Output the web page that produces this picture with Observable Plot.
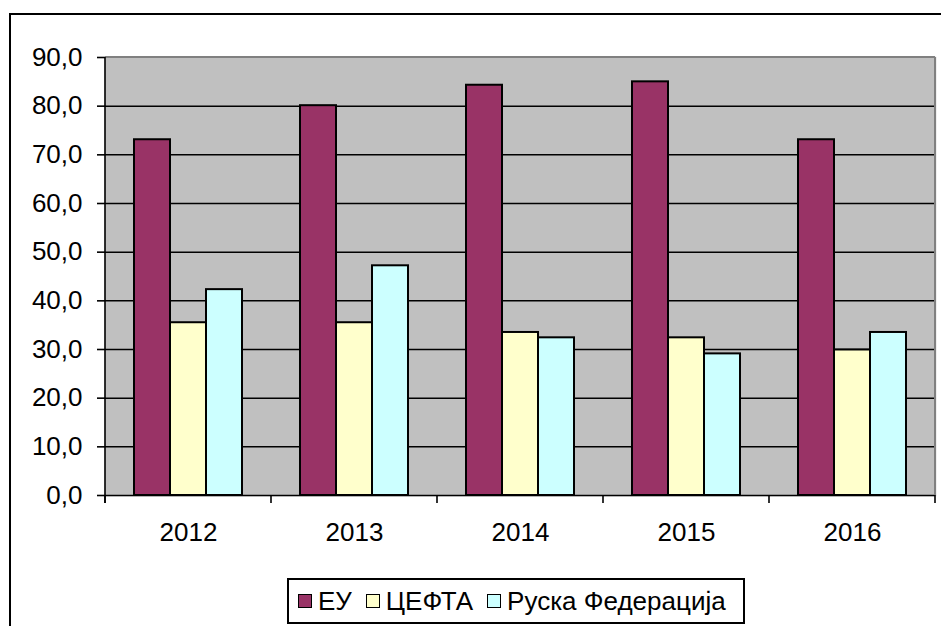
<!DOCTYPE html>
<html>
<head>
<meta charset="utf-8">
<script src="https://cdn.jsdelivr.net/npm/d3@7"></script>
<script src="https://cdn.jsdelivr.net/npm/@observablehq/plot@0.6"></script>
<style>
  html, body { margin: 0; padding: 0; background: #fff; }
  #wrap { position: relative; width: 941px; height: 626px; overflow: hidden; background: #fff;
          font-family: "Liberation Sans", Arial, sans-serif; }
  #outer { position: absolute; left: 9px; top: 13px; width: 1000px; height: 700px;
           border: 2px solid #000; box-sizing: border-box; }
  #chart { position: absolute; left: 0; top: 0; }
  #legend { position: absolute; left: 287px; top: 578px; width: 458px; height: 46px;
            border: 2px solid #000; box-sizing: border-box; background: #fff;
            display: flex; align-items: center; font-size: 26px; color: #000; padding-left: 9px; }
  .item { display: flex; align-items: center; margin-right: 14px; white-space: nowrap; }
  .sw { width: 12px; height: 12px; border: 1.5px solid #000; margin-right: 6px; }
</style>
</head>
<body>
<div id="wrap">
  <div id="outer"></div>
  <div id="chart"></div>
  <div id="legend"></div>
</div>
<script>
const years = ["2012", "2013", "2014", "2015", "2016"];
const series = ["ЕУ", "ЦЕФТА", "Руска Федерација"];
const euValues = [73.1, 80.1, 84.3, 85.0, 73.1];
const ceftaValues = [35.5, 35.5, 33.5, 32.4, 29.9];
const russiaValues = [42.3, 47.2, 32.4, 29.1, 33.5];
const yTicks = [0, 10, 20, 30, 40, 50, 60, 70, 80, 90];
const colors = ["#993366", "#FFFFCC", "#CCFFFF"];

const valuesBySeries = [euValues, ceftaValues, russiaValues];
const data = [];
years.forEach((year, i) => {
  series.forEach((s, j) => data.push({year, series: s, value: valuesBySeries[j][i]}));
});

const fmt = d => d.toFixed(1).replace(".", ",");

const chart = Plot.plot({
  width: 941,
  height: 570,
  marginLeft: 105,
  marginRight: 6,
  marginTop: 57,
  marginBottom: 75,
  style: {fontFamily: "'Liberation Sans', Arial, sans-serif", fontSize: "26px", color: "#000", background: "transparent", overflow: "visible"},
  fx: {domain: years, padding: 0, label: null},
  x: {domain: series, paddingInner: 0, paddingOuter: 0.78, axis: null},
  y: {domain: [0, 90], label: null},
  color: {domain: series, range: colors},
  marks: [
    Plot.frame({fill: "#C0C0C0", stroke: "#C0C0C0", strokeWidth: 1.5}),
    Plot.ruleY(yTicks.filter(d => d > 0 && d < 90), {stroke: "#000", strokeWidth: 1.5}),
    Plot.barY(data, {fx: "year", x: "series", y: "value", fill: "series", stroke: "#000", strokeWidth: 2}),
    Plot.ruleY([0], {stroke: "#000", strokeWidth: 1.6}),
    Plot.axisY(yTicks, {anchor: "left", tickFormat: fmt, tickSize: 8, tickPadding: 15, fontSize: 26, stroke: "#000", strokeWidth: 1.6, fill: "#000"}),
    Plot.axisFx({anchor: "bottom", tickSize: 0, tickPadding: 27, fontSize: 26, fill: "#000", label: null})
  ]
});
document.getElementById("chart").appendChild(chart);

(function () {
  // plot-area border and category boundary ticks, placed with the plot's own scales
  const fxS = chart.scale("fx");
  const yS = chart.scale("y");
  const yPos = v => yS.apply ? yS.apply(v) : yS.range[0] + (yS.range[1] - yS.range[0]) * (v - yS.domain[0]) / (yS.domain[1] - yS.domain[0]);
  const fxPos = v => fxS.apply ? fxS.apply(v) : fxS.range[0] + fxS.step * fxS.domain.indexOf(v);
  const xL = fxPos(years[0]);
  const xR = fxPos(years[years.length - 1]) + fxS.bandwidth;
  const yT = yPos(90), yB = yPos(0);
  const g = d3.select(chart).append("g");
  g.append("line").attr("x1", xL).attr("x2", xR).attr("y1", yT).attr("y2", yT).attr("stroke", "#808080").attr("stroke-width", 2);
  g.append("line").attr("x1", xR).attr("x2", xR).attr("y1", yT).attr("y2", yB).attr("stroke", "#808080").attr("stroke-width", 2);
  g.append("line").attr("x1", xL).attr("x2", xL).attr("y1", yT).attr("y2", yB + 8).attr("stroke", "#000").attr("stroke-width", 1.6);
  const bounds = years.map(fxPos).concat([xR]);
  bounds.forEach(x => g.append("line").attr("x1", x).attr("x2", x).attr("y1", yB).attr("y2", yB + 8).attr("stroke", "#000").attr("stroke-width", 1.6));

  // legend
  const legend = document.getElementById("legend");
  series.forEach((s, i) => {
    const item = document.createElement("div");
    item.className = "item";
    const sw = document.createElement("div");
    sw.className = "sw";
    sw.style.background = colors[i];
    item.appendChild(sw);
    item.appendChild(document.createTextNode(s));
    legend.appendChild(item);
  });
})();
</script>
</body>
</html>
